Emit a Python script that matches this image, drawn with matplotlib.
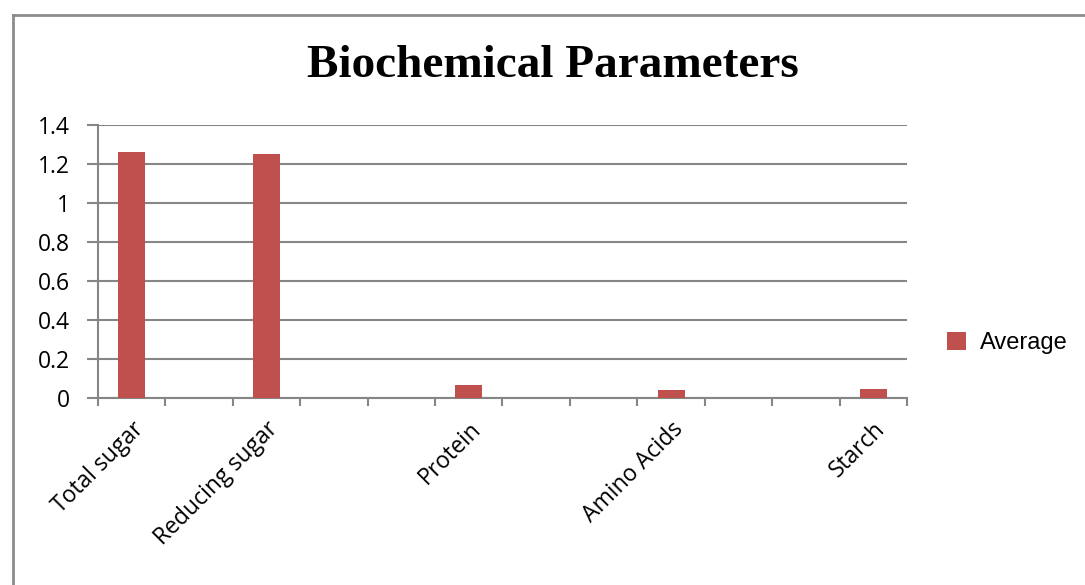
import numpy as np
import matplotlib.pyplot as plt
from matplotlib.lines import Line2D

categories = ['Total sugar', '', 'Reducing sugar', '', '', 'Protein', '', '',
              'Amino Acids', '', '', 'Starch']
average = [1.26, 0, 1.253, 0, 0, 0.067, 0, 0, 0.04, 0, 0, 0.045]
yticks = [0, 0.2, 0.4, 0.6, 0.8, 1, 1.2, 1.4]
ytick_labels = ['0', '0.2', '0.4', '0.6', '0.8', '1', '1.2', '1.4']

W, H = 1085, 585
fig = plt.figure(figsize=(W / 100, H / 100), dpi=100)
ax = fig.add_axes([98 / W, 1 - 398 / H, (907 - 98) / W, (398 - 125) / H])

grey = '#868686'
x = np.arange(len(categories))
ax.bar(x, average, width=0.4, color='#C0504D', label='Average', zorder=3)

ax.set_xlim(-0.5, len(categories) - 0.5)
ax.set_ylim(0, 1.4)
ax.set_yticks(yticks)
ax.set_yticklabels(ytick_labels, family='Open Sans', fontsize=16.5)
ax.grid(axis='y', color=grey, linewidth=1.5, zorder=0)

ax.set_xticks(np.arange(-0.5, len(categories)), labels=[])
ax.set_xticks(x, minor=True)
ax.set_xticklabels(categories, minor=True, rotation=45, ha='right',
                   rotation_mode='anchor', family='Open Sans', fontsize=16.5)
ax.tick_params(axis='x', which='minor', length=0, pad=14)
ax.tick_params(axis='x', which='major', length=6, width=1.5, color=grey)
ax.tick_params(axis='y', length=8, width=1.5, color=grey, pad=12)

for s in ['top', 'right']:
    ax.spines[s].set_visible(False)
for s in ['left', 'bottom']:
    ax.spines[s].set_color(grey)
    ax.spines[s].set_linewidth(1.5)

fig.text(553 / W, 1 - 66 / H, 'Biochemical Parameters', ha='center', va='center',
         family='Liberation Serif', fontweight='bold', fontsize=34)

fig.legend(loc='center left', bbox_to_anchor=(926 / W, 1 - 343 / H), frameon=False,
           prop={'family': 'Liberation Sans', 'size': 17}, handlelength=0.8,
           handleheight=0.8, handletextpad=0.6)

fig.add_artist(Line2D([13 / W, 13 / W], [0, 1 - 15 / H], transform=fig.transFigure,
                      color='#8c8c8c', linewidth=2))
fig.add_artist(Line2D([13 / W, 1], [1 - 15 / H, 1 - 15 / H], transform=fig.transFigure,
                      color='#8c8c8c', linewidth=2))

fig.savefig('out.png', dpi=100)
